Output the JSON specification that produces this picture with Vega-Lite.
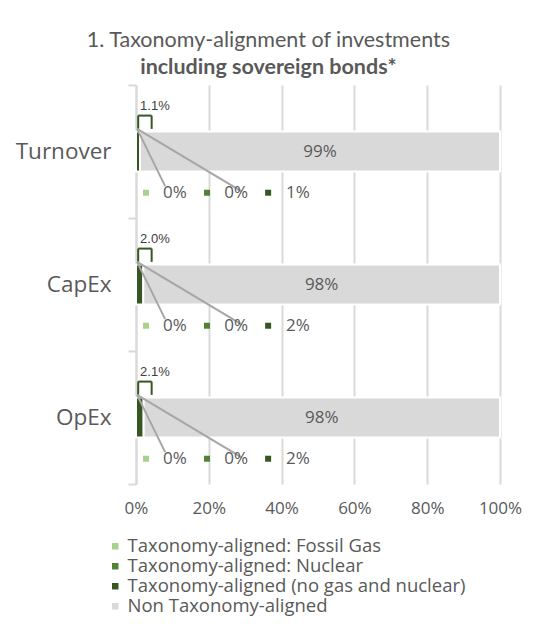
{
  "$schema": "https://vega.github.io/schema/vega-lite/v6.json",
  "background": "white",
  "padding": {"left": 15, "top": 30, "right": 18, "bottom": 10},
  "width": 364,
  "height": 399,
  "title": {
    "text": "1. Taxonomy-alignment of investments",
    "subtitle": "including sovereign bonds*",
    "font": "Lato", "fontSize": 21.5, "fontWeight": "normal", "color": "#595959",
    "subtitleFont": "Lato", "subtitleFontSize": 21.5, "subtitleFontWeight": "bold", "subtitleColor": "#595959",
    "anchor": "middle", "frame": "bounds", "offset": -4, "subtitlePadding": 5
  },
  "data": {"values": [
    {"category": "Turnover", "series": "Taxonomy-aligned: Fossil Gas", "value": 0},
    {"category": "Turnover", "series": "Taxonomy-aligned: Nuclear", "value": 0},
    {"category": "Turnover", "series": "Taxonomy-aligned (no gas and nuclear)", "value": 0.011},
    {"category": "Turnover", "series": "Non Taxonomy-aligned", "value": 0.989},
    {"category": "CapEx", "series": "Taxonomy-aligned: Fossil Gas", "value": 0},
    {"category": "CapEx", "series": "Taxonomy-aligned: Nuclear", "value": 0},
    {"category": "CapEx", "series": "Taxonomy-aligned (no gas and nuclear)", "value": 0.02},
    {"category": "CapEx", "series": "Non Taxonomy-aligned", "value": 0.98},
    {"category": "OpEx", "series": "Taxonomy-aligned: Fossil Gas", "value": 0},
    {"category": "OpEx", "series": "Taxonomy-aligned: Nuclear", "value": 0},
    {"category": "OpEx", "series": "Taxonomy-aligned (no gas and nuclear)", "value": 0.021},
    {"category": "OpEx", "series": "Non Taxonomy-aligned", "value": 0.979}
  ]},
  "layer": [
    {
      "mark": {"type": "bar", "height": {"band": 0.3}, "stroke": "white", "strokeWidth": 2},
      "encoding": {
        "x": {"field": "value", "type": "quantitative", "stack": "zero", "scale": {"domain": [0, 1], "nice": false},
          "axis": {"title": null, "format": ".0%", "values": [0, 0.2, 0.4, 0.6, 0.8, 1], "grid": true, "gridColor": "#d9d9d9", "gridWidth": 2,
            "domain": false, "ticks": false, "labelFlush": false, "labelFont": "Open Sans", "labelFontSize": 17, "labelColor": "#595959", "labelPadding": 16}},
        "y": {"field": "category", "type": "nominal",
          "scale": {"domain": ["Turnover", "CapEx", "OpEx"], "paddingInner": 0, "paddingOuter": 0},
          "axis": {"title": null, "tickBand": "extent", "grid": false, "domainColor": "#d9d9d9", "domainWidth": 2,
            "tickColor": "#d9d9d9", "tickWidth": 2, "tickSize": 8,
            "labelFont": "Open Sans", "labelFontSize": 22.5, "labelColor": "#595959", "labelPadding": 17}},
        "color": {"field": "series", "type": "nominal",
          "scale": {"domain": ["Taxonomy-aligned: Fossil Gas", "Taxonomy-aligned: Nuclear", "Taxonomy-aligned (no gas and nuclear)", "Non Taxonomy-aligned"],
            "range": ["#a9d18e", "#548235", "#375623", "#d9d9d9"]},
          "legend": {"title": null, "orient": "none", "legendX": -30, "legendY": 452, "direction": "vertical", "symbolType": "square", "symbolSize": 42, "symbolStrokeWidth": 0,
            "labelFont": "Open Sans", "labelFontSize": 18.5, "labelColor": "#595959", "labelLimit": 400, "rowPadding": 1, "labelOffset": 3}},
        "order": {"field": "value", "sort": "ascending"}
      }
    },
    {
      "mark": {"type": "text", "font": "Open Sans", "fontSize": 17, "color": "#595959"},
      "encoding": {
        "x": {"field": "value", "type": "quantitative", "stack": "zero", "bandPosition": 0.5},
        "y": {"field": "category", "type": "nominal", "bandPosition": 0.5},
        "order": {"field": "value", "sort": "ascending"},
        "text": {"condition": {"test": "datum.series === 'Non Taxonomy-aligned'", "field": "value", "format": ".0%"}, "value": ""}
      }
    },
    {
      "transform": [{"filter": "datum.series === 'Taxonomy-aligned (no gas and nuclear)'"}],
      "mark": {"type": "text", "font": "Liberation Sans", "fontSize": 13, "color": "#404040"},
      "encoding": {
        "x": {"datum": 0.052, "type": "quantitative"},
        "y": {"field": "category", "type": "nominal", "bandPosition": 0.155},
        "text": {"field": "value", "type": "quantitative", "format": ".1%"}
      }
    },
    {
      "transform": [{"filter": "datum.series === 'Taxonomy-aligned (no gas and nuclear)'"}],
      "mark": {"type": "rule", "color": "#375623", "strokeWidth": 2},
      "encoding": {
        "x": {"datum": 0.006, "type": "quantitative"},
        "y": {"field": "category", "type": "nominal", "bandPosition": 0.23},
        "y2": {"field": "category", "bandPosition": 0.33}
      }
    },
    {
      "transform": [{"filter": "datum.series === 'Taxonomy-aligned (no gas and nuclear)'"}],
      "mark": {"type": "rule", "color": "#375623", "strokeWidth": 2},
      "encoding": {
        "x": {"datum": 0.006, "type": "quantitative"},
        "x2": {"datum": 0.043},
        "y": {"field": "category", "type": "nominal", "bandPosition": 0.23}
      }
    },
    {
      "transform": [{"filter": "datum.series === 'Taxonomy-aligned (no gas and nuclear)'"}],
      "mark": {"type": "rule", "color": "#375623", "strokeWidth": 2},
      "encoding": {
        "x": {"datum": 0.043, "type": "quantitative"},
        "y": {"field": "category", "type": "nominal", "bandPosition": 0.23},
        "y2": {"field": "category", "bandPosition": 0.33}
      }
    },
    {
      "transform": [{"filter": "datum.series === 'Taxonomy-aligned: Fossil Gas'"}],
      "mark": {"type": "rule", "color": "#a6a6a6", "strokeWidth": 2},
      "encoding": {
        "x": {"datum": 0.003, "type": "quantitative"},
        "x2": {"datum": 0.08},
        "y": {"field": "category", "type": "nominal", "bandPosition": 0.33},
        "y2": {"field": "category", "bandPosition": 0.76}
      }
    },
    {
      "transform": [{"filter": "datum.series === 'Taxonomy-aligned: Nuclear'"}],
      "mark": {"type": "rule", "color": "#a6a6a6", "strokeWidth": 2},
      "encoding": {
        "x": {"datum": 0.003, "type": "quantitative"},
        "x2": {"datum": 0.29},
        "y": {"field": "category", "type": "nominal", "bandPosition": 0.33},
        "y2": {"field": "category", "bandPosition": 0.8}
      }
    },
    {
      "transform": [{"filter": "datum.series === 'Taxonomy-aligned: Fossil Gas'"}],
      "mark": {"type": "point", "shape": "square", "filled": true, "size": 36, "opacity": 1},
      "encoding": {
        "x": {"datum": 0.0275, "type": "quantitative"},
        "y": {"field": "category", "type": "nominal", "bandPosition": 0.81},
        "color": {"field": "series", "type": "nominal", "legend": null}
      }
    },
    {
      "transform": [{"filter": "datum.series === 'Taxonomy-aligned: Nuclear'"}],
      "mark": {"type": "point", "shape": "square", "filled": true, "size": 36, "opacity": 1},
      "encoding": {
        "x": {"datum": 0.195, "type": "quantitative"},
        "y": {"field": "category", "type": "nominal", "bandPosition": 0.81},
        "color": {"field": "series", "type": "nominal", "legend": null}
      }
    },
    {
      "transform": [{"filter": "datum.series === 'Taxonomy-aligned (no gas and nuclear)'"}],
      "mark": {"type": "point", "shape": "square", "filled": true, "size": 36, "opacity": 1},
      "encoding": {
        "x": {"datum": 0.363, "type": "quantitative"},
        "y": {"field": "category", "type": "nominal", "bandPosition": 0.81},
        "color": {"field": "series", "type": "nominal", "legend": null}
      }
    },
    {
      "transform": [{"filter": "datum.series === 'Taxonomy-aligned: Fossil Gas'"}],
      "mark": {"type": "text", "font": "Open Sans", "fontSize": 17, "color": "#595959"},
      "encoding": {
        "x": {"datum": 0.107, "type": "quantitative"},
        "y": {"field": "category", "type": "nominal", "bandPosition": 0.81},
        "text": {"field": "value", "type": "quantitative", "format": ".0%"}
      }
    },
    {
      "transform": [{"filter": "datum.series === 'Taxonomy-aligned: Nuclear'"}],
      "mark": {"type": "text", "font": "Open Sans", "fontSize": 17, "color": "#595959"},
      "encoding": {
        "x": {"datum": 0.275, "type": "quantitative"},
        "y": {"field": "category", "type": "nominal", "bandPosition": 0.81},
        "text": {"field": "value", "type": "quantitative", "format": ".0%"}
      }
    },
    {
      "transform": [{"filter": "datum.series === 'Taxonomy-aligned (no gas and nuclear)'"}],
      "mark": {"type": "text", "font": "Open Sans", "fontSize": 17, "color": "#595959"},
      "encoding": {
        "x": {"datum": 0.445, "type": "quantitative"},
        "y": {"field": "category", "type": "nominal", "bandPosition": 0.81},
        "text": {"field": "value", "type": "quantitative", "format": ".0%"}
      }
    }
  ],
  "config": {"view": {"stroke": null}}
}
